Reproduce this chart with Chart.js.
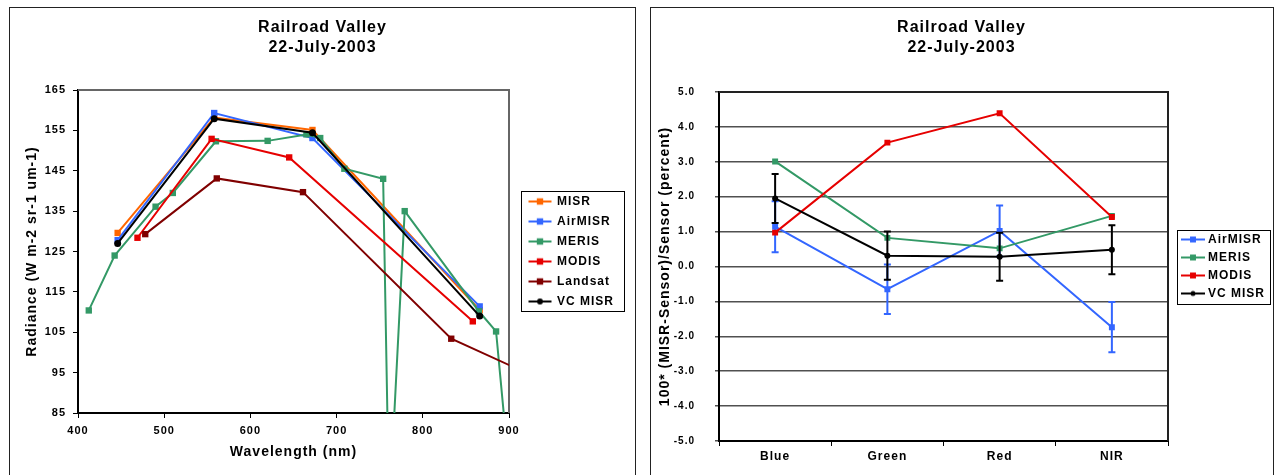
<!DOCTYPE html>
<html>
<head>
<meta charset="utf-8">
<title>Railroad Valley 22-July-2003</title>
<script src="https://cdn.jsdelivr.net/npm/chart.js"></script>
<style>
  html, body { margin: 0; padding: 0; background: #fff; }
  body { width: 1275px; height: 475px; overflow: hidden; position: relative; }
  .panel { position: absolute; top: 7px; height: 480px; border: 1px solid #222; box-sizing: border-box; }
  #left-panel { left: 9px; width: 627px; }
  #right-panel { left: 650px; width: 624px; }
  canvas { position: absolute; top: 8px; }
  #radiance-chart { left: 10px; }
  #difference-chart { left: 651px; }
</style>
</head>
<body>
<div class="panel" id="left-panel"></div>
<div class="panel" id="right-panel"></div>
<canvas id="radiance-chart" width="625" height="467"></canvas>
<canvas id="difference-chart" width="621" height="467"></canvas>
<script>
/**
 * @file
 * Railroad Valley, 22-July-2003: sensor radiances and MISR differences.
 */

// Radiance (W m-2 sr-1 um-1) against wavelength (nm).
const misrWavelength = [446, 558, 672, 866];
const misrRadiance = [129.6, 158.2, 155.1, 110.5];
const airmisrWavelength = [446, 558, 672, 866];
const airmisrRadiance = [127.8, 159.3, 153.1, 111.4];
const merisWavelength = [412.5, 442.5, 490, 510, 560, 620, 665, 681, 709, 754, 761, 779, 865, 885, 900];
const merisRadiance = [110.4, 124.0, 136.1, 139.5, 152.3, 152.4, 154.0, 153.1, 145.5, 143.0, 60, 135.0, 110.2, 105.2, 71];
const modisWavelength = [469, 555, 645, 858];
const modisRadiance = [128.4, 152.9, 148.3, 107.7];
const landsatWavelength = [478, 561, 661, 833, 1650];
const landsatRadiance = [129.3, 143.1, 139.7, 103.4, 24];
const vcMisrWavelength = [446, 558, 672, 866];
const vcMisrRadiance = [127.0, 157.9, 154.4, 109.0];

// 100 * (MISR - Sensor) / Sensor, percent, per band.
const bands = ['Blue', 'Green', 'Red', 'NIR'];
const airmisrDiff = [1.14, -0.65, 1.02, -1.74];
const airmisrErr = [0.73, 0.71, 0.73, 0.72];
const merisDiff = [3.01, 0.82, 0.52, 1.45];
const modisDiff = [0.97, 3.55, 4.39, 1.42];
const vcMisrDiff = [1.95, 0.31, 0.28, 0.48];
const vcMisrErr = [0.70, 0.69, 0.69, 0.70];

const colors = {
  misr: '#ff6600',
  airmisr: '#3366ff',
  meris: '#339966',
  modis: '#e60000',
  landsat: '#800000',
  vcMisr: '#000000',
};

Chart.defaults.font.family = "'Liberation Sans', Arial, sans-serif";
Chart.defaults.font.weight = 'bold';
Chart.defaults.color = '#000';
Chart.defaults.animation = false;

// The original text is set a little wide.
const letterSpacing = {
  id: 'letterSpacing',
  beforeUpdate: (chart) => { chart.ctx.letterSpacing = '1px'; },
  beforeDraw: (chart) => { chart.ctx.letterSpacing = '1px'; },
};

// Top and right edges of the plot area.
const plotFrame = {
  id: 'plotFrame',
  beforeDatasetsDraw: (chart, args, opts) => {
    let ctx = chart.ctx;
    let area = chart.chartArea;
    ctx.save();
    ctx.strokeStyle = opts.color;
    ctx.lineWidth = opts.width;
    ctx.beginPath();
    ctx.moveTo(area.left, area.top);
    ctx.lineTo(area.right, area.top);
    ctx.lineTo(area.right, area.bottom);
    ctx.stroke();
    ctx.restore();
  },
};

// Box round the legend entries.
const legendFrame = {
  id: 'legendFrame',
  afterDraw: (chart, args, opts) => {
    let legend = chart.legend;
    let boxes = legend.legendHitBoxes;
    if (!boxes || !boxes.length) {
      return;
    }
    let last = boxes[boxes.length - 1];
    let top = boxes[0].top - opts.top;
    let bottom = last.top + last.height + opts.bottom;
    let ctx = chart.ctx;
    ctx.save();
    ctx.strokeStyle = '#000';
    ctx.lineWidth = 1;
    ctx.strokeRect(Math.round(legend.left + opts.left) + 0.5, Math.round(top) + 0.5,
      opts.right - opts.left, Math.round(bottom - top));
    ctx.restore();
  },
};

// Vertical error bars from a dataset's errorBars list.
const errorBars = {
  id: 'errorBars',
  afterDatasetDraw: (chart, args, opts) => {
    let dataset = chart.data.datasets[args.index];
    if (!dataset.errorBars) {
      return;
    }
    let yScale = chart.scales[args.meta.yAxisID];
    let ctx = chart.ctx;
    ctx.save();
    ctx.strokeStyle = dataset.borderColor;
    ctx.lineWidth = opts.width;
    args.meta.data.forEach((point, i) => {
      let top = yScale.getPixelForValue(dataset.data[i] + dataset.errorBars[i]);
      let bottom = yScale.getPixelForValue(dataset.data[i] - dataset.errorBars[i]);
      ctx.beginPath();
      ctx.moveTo(point.x, top);
      ctx.lineTo(point.x, bottom);
      ctx.moveTo(point.x - opts.cap, top);
      ctx.lineTo(point.x + opts.cap, top);
      ctx.moveTo(point.x - opts.cap, bottom);
      ctx.lineTo(point.x + opts.cap, bottom);
      ctx.stroke();
    });
    ctx.restore();
  },
};

// Legend symbol: a short line with the series marker on it.
function legendSwatch(dataset, width, lineStart, lineEnd) {
  let canvas = document.createElement('canvas');
  canvas.width = width;
  canvas.height = 12;
  let ctx = canvas.getContext('2d');
  let mid = (lineStart + lineEnd) / 2;
  ctx.strokeStyle = dataset.borderColor;
  ctx.fillStyle = dataset.borderColor;
  ctx.lineWidth = 2;
  ctx.beginPath();
  ctx.moveTo(lineStart, 6);
  ctx.lineTo(lineEnd, 6);
  ctx.stroke();
  if (dataset.pointStyle === 'circle') {
    ctx.beginPath();
    ctx.arc(mid, 6, dataset.pointRadius - 0.5, 0, Math.PI * 2);
    ctx.fill();
  }
  else {
    let half = dataset.pointRadius * Math.SQRT1_2;
    ctx.fillRect(mid - half, 6 - half, half * 2, half * 2);
  }
  return canvas;
}

function legendLabels(width, lineStart, lineEnd) {
  return (chart) => {
    let items = Chart.defaults.plugins.legend.labels.generateLabels(chart);
    items.forEach((item) => {
      item.pointStyle = legendSwatch(chart.data.datasets[item.datasetIndex], width, lineStart, lineEnd);
    });
    return items;
  };
}

function wavelengthSeries(label, wavelengths, radiances, color, pointStyle, radius, order) {
  return {
    label: label,
    data: wavelengths.map((x, i) => ({x: x, y: radiances[i]})),
    showLine: true,
    borderColor: color,
    backgroundColor: color,
    borderWidth: 2,
    pointStyle: pointStyle,
    pointRadius: radius,
    pointBorderWidth: 0,
    order: order,
  };
}

function bandSeries(label, values, color, pointStyle, radius, order, errors) {
  let series = {
    label: label,
    data: values,
    borderColor: color,
    backgroundColor: color,
    borderWidth: 2,
    pointStyle: pointStyle,
    pointRadius: radius,
    pointBorderWidth: 0,
    fill: false,
    tension: 0,
    order: order,
  };
  if (errors) {
    series.errorBars = errors;
  }
  return series;
}

let chartTitle = {
  display: true,
  text: ['Railroad Valley', '22-July-2003'],
  color: '#000',
  font: {size: 16, weight: 'bold', lineHeight: 1.25},
};

let radianceConfig = {
  type: 'scatter',
  data: {
    datasets: [
      wavelengthSeries('MISR', misrWavelength, misrRadiance, colors.misr, 'rect', 4.5, 6),
      wavelengthSeries('AirMISR', airmisrWavelength, airmisrRadiance, colors.airmisr, 'rect', 4.5, 5),
      wavelengthSeries('MERIS', merisWavelength, merisRadiance, colors.meris, 'rect', 4.5, 4),
      wavelengthSeries('MODIS', modisWavelength, modisRadiance, colors.modis, 'rect', 4.5, 3),
      wavelengthSeries('Landsat', landsatWavelength, landsatRadiance, colors.landsat, 'rect', 4.5, 2),
      wavelengthSeries('VC MISR', vcMisrWavelength, vcMisrRadiance, colors.vcMisr, 'circle', 3.5, 1),
    ],
  },
  options: {
    responsive: false,
    layout: {padding: {left: 11, right: 11, top: 0, bottom: 0}},
    scales: {
      x: {
        type: 'linear',
        min: 400,
        max: 900,
        ticks: {stepSize: 100, padding: 6, font: {size: 11}},
        grid: {drawOnChartArea: false, tickLength: 5, color: '#000'},
        border: {color: '#000', width: 2},
        title: {display: true, text: 'Wavelength (nm)', font: {size: 14, weight: 'bold'}, padding: {bottom: 14}},
        afterFit: (scale) => { scale.height = 62; },
      },
      y: {
        min: 85,
        max: 165,
        ticks: {stepSize: 10, padding: 7, font: {size: 11}},
        grid: {drawOnChartArea: false, tickLength: 5, color: '#000'},
        border: {color: '#000', width: 2},
        title: {display: true, text: 'Radiance (W m-2 sr-1 um-1)', font: {size: 14, weight: 'bold'}, padding: {top: 3}},
        afterFit: (scale) => { scale.width = 57; },
      },
    },
    plugins: {
      title: Object.assign({}, chartTitle, {padding: {top: 10, bottom: 32}}),
      legend: {
        position: 'right',
        fullSize: false,
        maxWidth: 115,
        labels: {
          usePointStyle: true,
          pointStyleWidth: 34,
          padding: 8,
          color: '#000',
          font: {size: 12, weight: 'bold'},
          sort: (a, b) => a.datasetIndex - b.datasetIndex,
          generateLabels: legendLabels(36, 12.5, 35.5),
        },
      },
      tooltip: {enabled: false},
      plotFrame: {color: '#666', width: 2},
      legendFrame: {left: 12, right: 115, top: 4.5, bottom: 3.5},
    },
  },
  plugins: [letterSpacing, plotFrame, legendFrame],
};

let differenceConfig = {
  type: 'line',
  data: {
    labels: bands,
    datasets: [
      bandSeries('AirMISR', airmisrDiff, colors.airmisr, 'rect', 4.2, 4, airmisrErr),
      bandSeries('MERIS', merisDiff, colors.meris, 'rect', 4.2, 3),
      bandSeries('MODIS', modisDiff, colors.modis, 'rect', 4.2, 2),
      bandSeries('VC MISR', vcMisrDiff, colors.vcMisr, 'circle', 3, 1, vcMisrErr),
    ],
  },
  options: {
    responsive: false,
    layout: {padding: {left: 0, right: 0, top: 0, bottom: 0}},
    scales: {
      x: {
        type: 'category',
        offset: true,
        ticks: {padding: 3, font: {size: 12}},
        grid: {offset: true, drawOnChartArea: false, tickLength: 5, color: '#000'},
        border: {color: '#000', width: 2},
        afterFit: (scale) => { scale.height = 34; },
      },
      y: {
        min: -5,
        max: 5,
        ticks: {
          stepSize: 1,
          padding: 20,
          font: {size: 10},
          callback: (value) => value.toFixed(1),
        },
        grid: {color: '#505050', lineWidth: 1.5, tickLength: 4},
        border: {color: '#000', width: 2},
        title: {display: true, text: '100* (MISR-Sensor)/Sensor (percent)', font: {size: 14, weight: 'bold'}, padding: {top: 6}},
        afterFit: (scale) => { scale.width = 68; },
      },
    },
    plugins: {
      title: Object.assign({}, chartTitle, {padding: {top: 10, bottom: 34}}),
      legend: {
        position: 'right',
        fullSize: false,
        maxWidth: 104,
        labels: {
          usePointStyle: true,
          pointStyleWidth: 28,
          padding: 6,
          color: '#000',
          font: {size: 12, weight: 'bold'},
          sort: (a, b) => a.datasetIndex - b.datasetIndex,
          generateLabels: legendLabels(34, 10, 34),
        },
      },
      tooltip: {enabled: false},
      plotFrame: {color: '#222', width: 2},
      legendFrame: {left: 9, right: 102, top: 3.5, bottom: 4},
      errorBars: {width: 2, cap: 3.5},
    },
  },
  plugins: [letterSpacing, plotFrame, legendFrame, errorBars],
};

let radianceChart = new Chart(document.getElementById('radiance-chart'), radianceConfig);
let differenceChart = new Chart(document.getElementById('difference-chart'), differenceConfig);
</script>
</body>
</html>
